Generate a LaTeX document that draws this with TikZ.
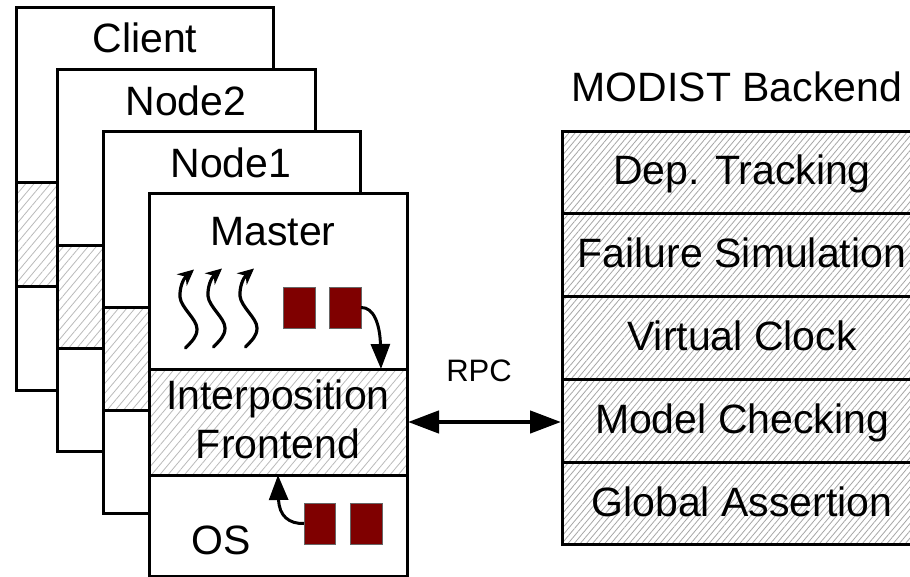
\documentclass[tikz,border=0pt]{standalone}
\usepackage{fontspec}
\setmainfont{Liberation Sans}
\usetikzlibrary{arrows.meta,patterns.meta}
\definecolor{darkred}{HTML}{7F0000}
\newcommand{\cell}[6][]{%
  \pgfmathsetmacro{\cw}{#5-#3}\pgfmathsetmacro{\ch}{#6-#4}%
  \pgfmathsetmacro{\cx}{(#5+#3)/2}\pgfmathsetmacro{\cy}{(#6+#4)/2}%
  \node[#1,minimum width=\cw pt,minimum height=\ch pt] (#2) at (\cx,\cy) {};}
\tikzset{
  x=1pt,y=-1pt,
  cellbase/.style={draw=black,line width=3pt,inner sep=0pt,outer sep=0pt,rectangle,line join=miter},
  plain/.style={cellbase,fill=white},
  hatchfront/.style={cellbase,preaction={fill=white},pattern={Lines[angle=50,distance=6.3pt,line width=.8pt]},pattern color=black!27},
  hatchback/.style={cellbase,preaction={fill=white},pattern={Lines[angle=50,distance=4.7pt,line width=.8pt]},pattern color=black!35},
  square/.style={draw=black!60,line width=.6pt,fill=darkred,inner sep=0pt,outer sep=0pt,rectangle},
  lab/.style={anchor=base,inner sep=0pt,font=\fontsize{41}{44}\selectfont},
  smalllab/.style={anchor=base,inner sep=0pt,font=\fontsize{31}{36}\selectfont},
  bigtip/.style={-{Triangle[length=25pt,width=19pt]},line width=3pt},
  wiggle/.style={-{Stealth[length=16pt,width=15pt,inset=5pt]},line width=3.2pt,line cap=round},
  rpc/.style={{Triangle[length=31pt,width=22pt]}-{Triangle[length=31pt,width=22pt]},line width=4.5pt},
}
\begin{document}
\begin{tikzpicture}
\clip (0,0) rectangle (910,577);
\fill[white] (0,0) rectangle (910,577);
% client stack
\cell[plain]{clientTop}{16}{8}{273}{183}
\cell[hatchfront]{clientMid}{16}{183}{273}{287}
\cell[plain]{clientBot}{16}{287}{273}{390}
% node2 stack
\cell[plain]{nodeBTop}{57}{70}{315}{246}
\cell[hatchfront]{nodeBMid}{57}{246}{315}{348}
\cell[plain]{nodeBBot}{57}{348}{315}{451}
% node1 stack
\cell[plain]{nodeATop}{103}{132}{360}{307}
\cell[hatchfront]{nodeAMid}{103}{307}{360}{410}
\cell[plain]{nodeABot}{103}{410}{360}{513}
% master stack
\cell[plain]{master}{149}{194}{407}{369}
\cell[hatchfront]{inter}{149}{369}{407}{475}
\cell[plain]{os}{149}{475}{407}{576}
% backend
\cell[hatchback]{dep}{562}{132}{930}{214}
\cell[hatchback]{fail}{562}{214}{930}{297}
\cell[hatchback]{clock}{562}{297}{930}{379}
\cell[hatchback]{model}{562}{379}{930}{462}
\cell[hatchback]{assert}{562}{462}{930}{544}
% squares
\cell[square]{sqA}{283}{287}{315}{328}
\cell[square]{sqB}{329}{287}{361}{328}
\cell[square]{sqC}{304}{503}{335}{544}
\cell[square]{sqD}{350}{503}{382}{544}
% labels
\node[lab] (tclient) at (145,53) {Client};
\node[lab] (tnodeb) at (186,115.5) {Node2};
\node[lab] (tnodea) at (231,178) {Node1};
\node[lab] (tmaster) at (273,245.5) {Master};
\node[lab] (tinter) at (278,409.5) {Interposition};
\node[lab] (tfront) at (278,458.5) {Frontend};
\node[lab] (tos) at (221,554.5) {OS};
\node[smalllab] (trpc) at (479,381) {RPC};
\node[lab] (tback) at (737,101.5) {MODIST Backend};
\node[lab] (tdep) at (742,184.5) {Dep. Tracking};
\node[lab] (tfail) at (742,267.5) {Failure Simulation};
\node[lab] (tclock) at (742,350.5) {Virtual Clock};
\node[lab] (tmodel) at (742,433.5) {Model Checking};
\node[lab] (tassert) at (742,516.5) {Global Assertion};
% connectors
\coordinate (inA) at (381,369);
\coordinate (inB) at (278,475);
\draw[bigtip] (sqB.east) .. controls (374,307) and (380,325) .. (inA);
\draw[bigtip] (sqC.west) .. controls (289,524) and (279,516) .. (inB);
\coordinate (rpcL) at (408,422);
\coordinate (rpcR) at (561,422);
\draw[rpc] (rpcL) -- (rpcR);
% threads
\foreach \name/\dx/\dy in {wa/0/0,wb/28/-1,wc/60/-1}{
  \begin{scope}[shift={(\dx,\dy)}]
  \coordinate (\name s) at (185.5,348);
  \coordinate (\name t) at (194,269.5);
  \draw[wiggle] (\name s) .. controls (192,341) and (197,337) .. (197,329)
    .. controls (197,319) and (181,308) .. (180,297)
    .. controls (179.5,288) and (183,279) .. (\name t);
  \end{scope}
}
\end{tikzpicture}
\end{document}
